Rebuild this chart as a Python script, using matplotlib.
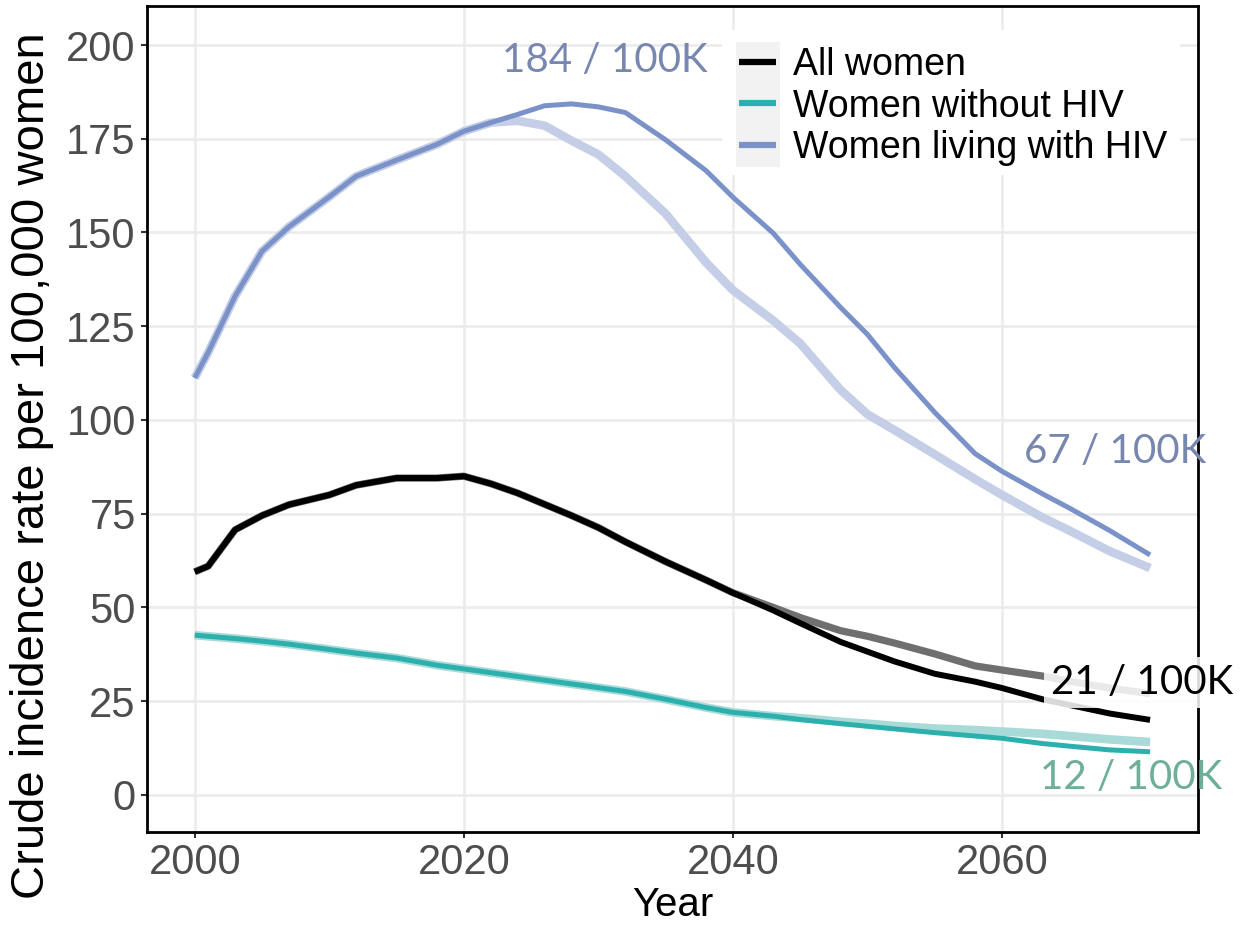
import matplotlib
matplotlib.use('Agg')
from matplotlib import pyplot as plt
from matplotlib.patches import Rectangle

# values (crude incidence per 100,000 women)
years = [2000, 2001, 2003, 2005, 2007, 2010, 2012, 2015, 2018, 2020, 2022,
         2024, 2026, 2028, 2030, 2032, 2035, 2038, 2040, 2043, 2045, 2048,
         2050, 2052, 2055, 2058, 2060, 2063, 2065, 2068, 2071]

hiv = [111.2, 118, 133, 145, 151.5, 159.5, 165, 169.3, 173.5, 177, 179.3,
       181.5, 183.8, 184.3, 183.5, 182, 174.7, 166.5, 159.4, 149.8, 141.5, 130,
       122.8, 114, 102, 91, 86.3, 80.3, 76.5, 70.5, 64]
hiv_alt = [111.2, 118, 133, 145, 151.5, 159.5, 165, 169.3, 173.5, 177, 179.3,
           179.8, 178.5, 174.5, 170.8, 165, 155, 142, 134.6, 126.5, 120.4, 108,
           101.5, 97.3, 90.8, 84.2, 80, 74, 70.5, 65, 60.5]

all_women = [59.5, 61, 70.7, 74.5, 77.4, 80, 82.6, 84.5, 84.5, 85, 83,
             80.5, 77.5, 74.5, 71.3, 67.5, 62.2, 57.3, 53.9, 49.2, 45.8, 40.8,
             38.2, 35.6, 32.3, 30.2, 28.5, 25.5, 24, 21.7, 20]
all_alt = [59.5, 61, 70.7, 74.5, 77.4, 80, 82.6, 84.5, 84.5, 85, 83,
           80.5, 77.5, 74.5, 71.3, 67.5, 62.2, 57.3, 53.9, 50, 47.3, 43.8,
           42.3, 40.5, 37.6, 34.4, 33.3, 31.7, 30.3, 28.5, 27]

no_hiv = [42.6, 42.3, 41.7, 41, 40.2, 38.8, 37.8, 36.5, 34.6, 33.6, 32.6,
          31.6, 30.6, 29.6, 28.6, 27.6, 25.5, 23.3, 22, 21, 20.1, 19,
          18.3, 17.6, 16.6, 15.7, 15.1, 13.7, 13, 12, 11.5]
no_hiv_alt = [42.6, 42.3, 41.7, 41, 40.2, 38.8, 37.8, 36.5, 34.6, 33.6, 32.6,
              31.6, 30.6, 29.6, 28.6, 27.6, 25.5, 23.3, 22, 21, 20.5, 19.5,
              19, 18.4, 17.7, 17.3, 16.9, 16.3, 15.7, 14.8, 14.1]

labels = ['All women', 'Women without HIV', 'Women living with HIV']
yticks = [0, 25, 50, 75, 100, 125, 150, 175, 200]
xticks = [2000, 2020, 2040, 2060]

BLUE = '#7A92C7'
BLUE_L = '#C5CEE7'
TEAL = '#2BB0AE'
TEAL_L = '#A8DAD7'
GRAY = '#6F6F6F'

plt.rcParams['font.family'] = ['Liberation Sans', 'DejaVu Sans']

fig = plt.figure(figsize=(12.4, 9.26), dpi=100)
ax = fig.add_axes([0.1185, 0.1015, 0.8475, 0.892])

# alternative scenario (lighter, thicker) under the main lines
ax.plot(years, hiv_alt, color=BLUE_L, lw=6.2, solid_capstyle='butt', zorder=3)
ax.plot(years, all_alt, color=GRAY, lw=5.2, solid_capstyle='butt', zorder=3)
ax.plot(years, no_hiv_alt, color=TEAL_L, lw=6.2, solid_capstyle='butt', zorder=3)

l1, = ax.plot(years, all_women, color='black', lw=4.3, solid_capstyle='butt', zorder=4)
l2, = ax.plot(years, no_hiv, color=TEAL, lw=3.6, solid_capstyle='butt', zorder=4)
l3, = ax.plot(years, hiv, color=BLUE, lw=3.6, solid_capstyle='butt', zorder=4)

ax.set_xlim(1996.45, 2074.55)
ax.set_ylim(-9.9, 210.4)
ax.set_xticks(xticks)
ax.set_yticks(yticks)
ax.grid(True, color='#EBEBEB', lw=1.8)
ax.set_axisbelow(True)
for s in ax.spines.values():
    s.set_linewidth(2)
    s.set_color('black')
ax.tick_params(direction='out', length=4, width=1.5, color='#333333',
               labelcolor='#4D4D4D', labelsize=30, pad=4)

ax.set_xlabel('Year', fontsize=29, labelpad=2)
ax.set_ylabel('Crude incidence rate per 100,000 women', fontsize=34)
ax.yaxis.set_label_coords(-0.088, 0.444)

# legend: white background and grey key strip behind it
ax.add_patch(Rectangle((0.547, 0.795), 0.436, 0.176, transform=ax.transAxes,
                       fc='white', ec='none', zorder=5))
ax.add_patch(Rectangle((0.561, 0.805), 0.041, 0.151, transform=ax.transAxes,
                       fc='#F2F2F2', ec='none', zorder=5.5))
leg = ax.legend([l1, l2, l3], labels, loc='upper left',
                bbox_to_anchor=(0.5635, 0.950), fontsize=27, frameon=False,
                borderpad=0, borderaxespad=0, handlelength=0.98,
                handletextpad=0.45, labelspacing=0.14)
for h in leg.get_lines():
    h.set_linewidth(4.5)
leg.set_zorder(6)

ann_font = ['Lato', 'DejaVu Sans']
ax.text(2030.5, 195.9, '184 / 100K', color='#7887B0', fontsize=29,
        family=ann_font, ha='center', va='center', zorder=7, clip_on=False)
ax.text(2068.4, 91.5, '67 / 100K', color='#7887B0', fontsize=29,
        family=ann_font, ha='center', va='center', zorder=7, clip_on=False)
ax.text(2070.4, 30, '21 / 100K', color='black', fontsize=29,
        family=ann_font, ha='center', va='center', zorder=7, clip_on=False,
        bbox=dict(boxstyle='square,pad=0.18', fc='white', ec='none', alpha=0.85))
ax.text(2069.6, 4.7, '12 / 100K', color='#6FAF97', fontsize=29,
        family=ann_font, ha='center', va='center', zorder=7, clip_on=False)

plt.savefig('out.png', dpi=100)
